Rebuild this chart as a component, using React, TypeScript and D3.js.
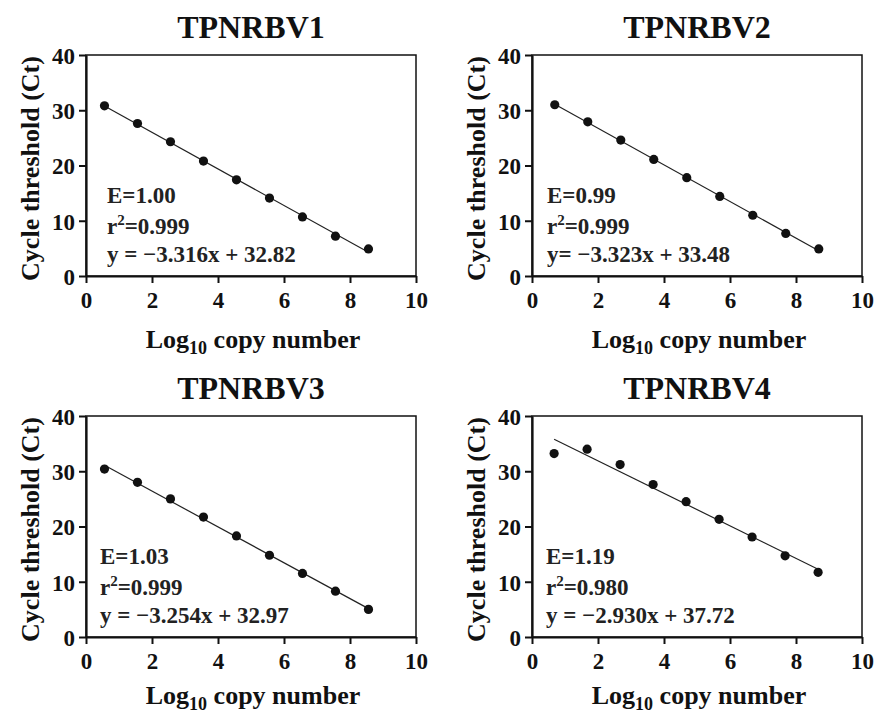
import React, { useEffect, useRef } from 'react';
import * as d3 from 'd3';

// chart values
const titles = ['TPNRBV1', 'TPNRBV2', 'TPNRBV3', 'TPNRBV4'];
const logCopy1 = [0.56, 1.56, 2.56, 3.56, 4.56, 5.56, 6.56, 7.56, 8.56];
const logCopy2 = [0.69, 1.69, 2.69, 3.69, 4.69, 5.69, 6.69, 7.69, 8.69];
const logCopy3 = [0.56, 1.56, 2.56, 3.56, 4.56, 5.56, 6.56, 7.56, 8.56];
const logCopy4 = [0.67, 1.67, 2.67, 3.67, 4.67, 5.67, 6.67, 7.67, 8.67];
const ct1 = [30.8, 27.6, 24.3, 20.8, 17.4, 14.1, 10.7, 7.2, 4.9];
const ct2 = [31.0, 27.9, 24.6, 21.1, 17.8, 14.4, 11.0, 7.7, 4.9];
const ct3 = [30.4, 28.0, 25.0, 21.7, 18.3, 14.8, 11.5, 8.3, 5.0];
const ct4 = [33.2, 34.0, 31.2, 27.6, 24.5, 21.3, 18.1, 14.7, 11.7];
const efficiency = ['E=1.00', 'E=0.99', 'E=1.03', 'E=1.19'];
const rSquared = ['=0.999', '=0.999', '=0.999', '=0.980'];
const equations = ['y = \u22123.316x + 32.82', 'y= \u22123.323x + 33.48', 'y = \u22123.254x + 32.97', 'y = \u22122.930x + 37.72'];
const xTicks = [0, 2, 4, 6, 8, 10];
const yTicks = [0, 10, 20, 30, 40];

const allX = [logCopy1, logCopy2, logCopy3, logCopy4];
const allY = [ct1, ct2, ct3, ct4];

// layout
const W = 877, H = 715;
const plotW = 330, plotH = 221;
const origins = [[86, 55], [532, 55], [86, 416], [532, 416]];
const textLeft = [21, 15, 14, 14];
const font = 'Liberation Serif, Times New Roman, serif';

function fit(xs: number[], ys: number[]) {
  const mx = d3.mean(xs) as number, my = d3.mean(ys) as number;
  let sxy = 0, sxx = 0;
  xs.forEach((x, i) => { sxy += (x - mx) * (ys[i] - my); sxx += (x - mx) * (x - mx); });
  const slope = sxy / sxx;
  return { slope, intercept: my - slope * mx };
}

const App = () => {
  const ref = useRef<SVGSVGElement>(null);

  useEffect(() => {
    const svg = d3.select(ref.current);
    svg.selectAll('*').remove();

    titles.forEach((title, p) => {
      const [ox, oy] = origins[p];
      const g = svg.append('g').attr('transform', `translate(${ox},${oy})`);

      const x = d3.scaleLinear().domain([0, 10]).range([0, plotW]);
      const y = d3.scaleLinear().domain([0, 40]).range([plotH, 0]);

      // frame (top + right)
      g.append('rect').attr('width', plotW).attr('height', plotH)
        .attr('fill', 'none').attr('stroke', '#111').attr('stroke-width', 1.5);

      const xAxis = g.append('g').attr('transform', `translate(0,${plotH})`)
        .call(d3.axisBottom(x).tickValues(xTicks).tickSize(7).tickSizeOuter(0).tickPadding(8));
      const yAxis = g.append('g')
        .call(d3.axisLeft(y).tickValues(yTicks).tickSize(7).tickSizeOuter(0).tickPadding(4));
      [xAxis, yAxis].forEach(a => {
        a.attr('font-family', font).attr('font-size', 23).attr('font-weight', 'bold');
        a.select('.domain').attr('stroke', '#111').attr('stroke-width', 2.2);
        a.selectAll('.tick line').attr('stroke', '#111').attr('stroke-width', 2);
        a.selectAll('.tick text').attr('fill', '#111');
      });
      yAxis.selectAll('.tick text').attr('dy', '0.36em');
      xAxis.selectAll('.tick text').attr('dy', '0.72em');

      // fit line
      const xs = allX[p], ys = allY[p];
      const { slope, intercept } = fit(xs, ys);
      const x0 = d3.min(xs) as number, x1 = d3.max(xs) as number;
      g.append('line')
        .attr('x1', x(x0)).attr('y1', y(slope * x0 + intercept))
        .attr('x2', x(x1)).attr('y2', y(slope * x1 + intercept))
        .attr('stroke', '#222').attr('stroke-width', 1.2);

      g.selectAll('circle.pt').data(xs).join('circle')
        .attr('class', 'pt')
        .attr('cx', d => x(d)).attr('cy', (d, i) => y(ys[i]))
        .attr('r', 4.6).attr('fill', '#111');

      const label = (sel: any, size: number) =>
        sel.attr('font-family', font).attr('font-weight', 'bold').attr('font-size', size);

      // title
      label(g.append('text'), 32).attr('x', plotW / 2).attr('y', -17)
        .attr('text-anchor', 'middle').attr('fill', '#111')
        .text(title);

      // annotation
      const tx = textLeft[p];
      label(g.append('text'), 23).attr('x', tx).attr('y', plotH - 73)
        .attr('fill', '#222').text(efficiency[p]);
      const r2 = label(g.append('text'), 23).attr('x', tx).attr('y', plotH - 42)
        .attr('fill', '#222');
      r2.append('tspan').text('r');
      r2.append('tspan').attr('dy', -9).attr('font-size', 15).text('2');
      r2.append('tspan').attr('dy', 9).text(rSquared[p]);
      label(g.append('text'), 23).attr('x', tx).attr('y', plotH - 14)
        .attr('fill', '#222').text(equations[p]);

      // axis titles
      const xt = label(g.append('text'), 26).attr('x', plotW / 2 + 2).attr('y', p < 2 ? plotH + 72 : plotH + 67)
        .attr('text-anchor', 'middle').attr('fill', '#111');
      xt.append('tspan').text('Log');
      xt.append('tspan').attr('dy', 6).attr('font-size', 18).text('10');
      xt.append('tspan').attr('dy', -6).text(' copy number');

      label(g.append('text'), 26)
        .attr('transform', `translate(-47,${plotH / 2 + 3}) rotate(-90)`)
        .attr('text-anchor', 'middle').attr('fill', '#111')
        .text('Cycle threshold (Ct)');
    });
  }, []);

  return (
    <div style={{ position: 'absolute', left: 0, top: 0, width: W, height: H, background: '#fff' }}>
      <svg ref={ref} width={W} height={H}></svg>
    </div>
  );
};

export default App;
